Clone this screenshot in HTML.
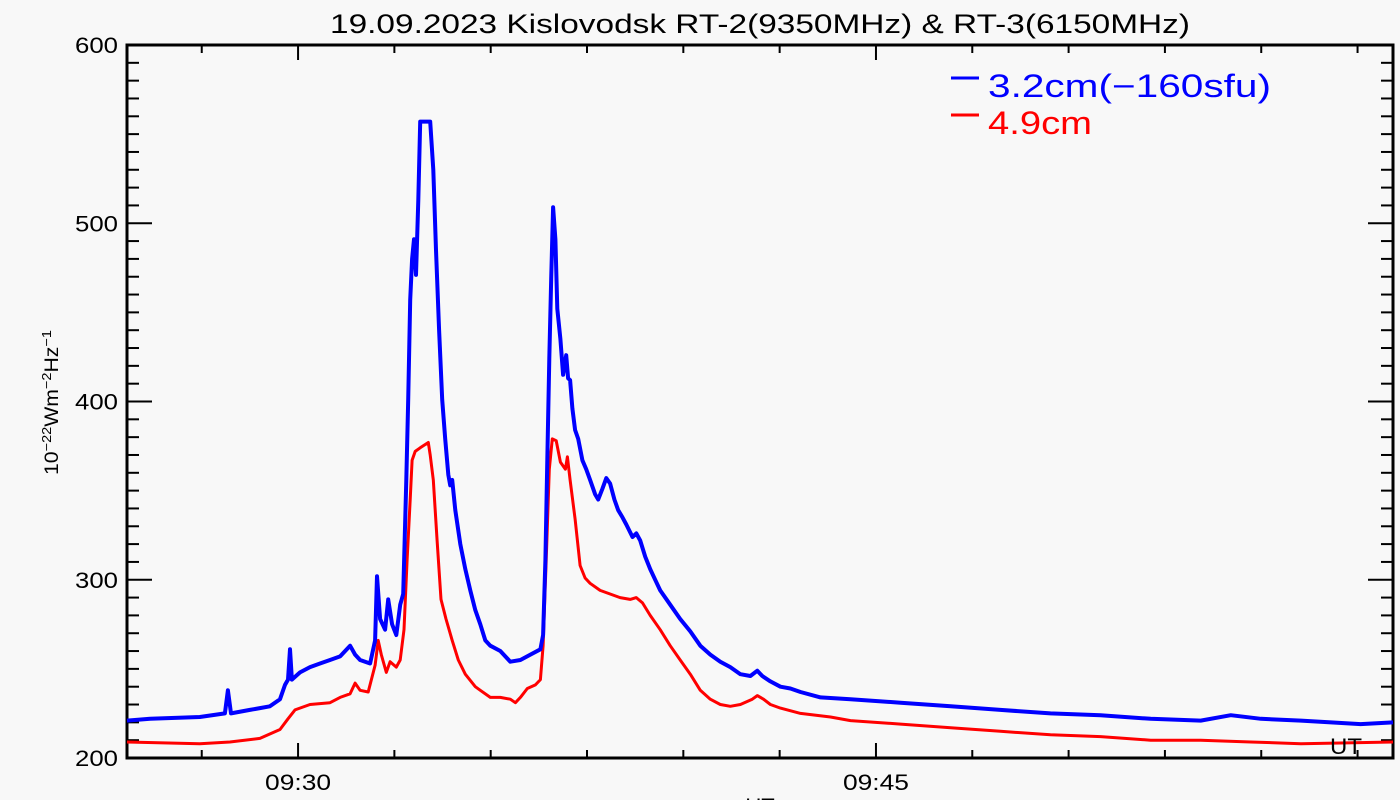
<!DOCTYPE html>
<html><head><meta charset="utf-8"><style>
body{margin:0;background:#f8f8f8;width:1400px;height:800px;overflow:hidden}
svg{display:block}
text{font-family:"Liberation Sans","DejaVu Sans",sans-serif}
</style></head><body>
<svg id="chart" width="1400" height="800" xmlns="http://www.w3.org/2000/svg">
<rect width="1400" height="800" fill="#f8f8f8"/>
<text x="330" y="33" font-size="27" textLength="860" lengthAdjust="spacingAndGlyphs" fill="#000">19.09.2023 Kislovodsk RT-2(9350MHz) &amp; RT-3(6150MHz)</text>
<g id="axes"></g>
<g id="series"></g>
<text transform="translate(58,475) rotate(-90)" font-size="19" textLength="145" lengthAdjust="spacingAndGlyphs">10<tspan font-size="13" dy="-7">−22</tspan><tspan dy="7">Wm</tspan><tspan font-size="13" dy="-7">−2</tspan><tspan dy="7">Hz</tspan><tspan font-size="13" dy="-7">−1</tspan></text>
<text x="760" y="814" font-size="22" text-anchor="middle">UT</text>
<text x="1330" y="754" font-size="22" textLength="32" lengthAdjust="spacingAndGlyphs">UT</text>
<g>
<line x1="951" y1="78" x2="979" y2="78" stroke="#0000ff" stroke-width="3"/>
<text x="988" y="97" font-size="32" textLength="283" lengthAdjust="spacingAndGlyphs" fill="#0000ff">3.2cm(−160sfu)</text>
<line x1="951" y1="115" x2="979" y2="115" stroke="#ff0000" stroke-width="3"/>
<text x="988" y="134" font-size="32" textLength="104" lengthAdjust="spacingAndGlyphs" fill="#ff0000">4.9cm</text>
</g>
</svg>
<script>
// times are minutes after 09:00 UT
const blueTimes=[25.56,26.16,27.45,28.10,28.18,28.26,28.75,29.01,29.27,29.53,29.66,29.74,29.79,29.84,30.05,30.31,30.57,30.83,31.09,31.35,31.48,31.61,31.87,32.00,32.05,32.13,32.26,32.34,32.44,32.55,32.65,32.73,32.81,32.86,32.91,32.96,33.01,33.06,33.12,33.17,33.43,33.45,33.51,33.58,33.66,33.74,33.82,33.90,33.95,34.00,34.08,34.21,34.34,34.47,34.60,34.73,34.86,34.99,35.25,35.51,35.77,36.03,36.29,36.36,36.42,36.47,36.52,36.57,36.62,36.68,36.73,36.81,36.88,36.96,37.01,37.06,37.12,37.19,37.27,37.38,37.48,37.58,37.71,37.79,37.90,38.00,38.10,38.21,38.31,38.42,38.52,38.68,38.78,38.88,39.01,39.14,39.27,39.40,39.66,39.92,40.18,40.44,40.70,40.96,41.22,41.48,41.74,41.92,42.05,42.26,42.52,42.78,43.04,43.56,44.34,45.64,46.94,48.23,49.53,50.83,52.13,53.43,54.21,54.99,56.03,56.81,57.58,58.42];
const blueValues=[221,222,223,225,238,225,227,228,229,233,241,244,261,244,248,251,253,255,257,263,258,255,253,266,302,278,272,289,275,269,286,292,356,401,457,480,491,471,513,557,557,550,530,485,440,401,379,359,353,356,339,320,306,294,283,275,266,263,260,254,255,258,261,269,311,367,424,469,509,491,452,435,415,426,413,412,396,384,379,367,362,356,348,345,351,357,354,345,339,335,331,324,326,322,313,306,300,294,286,278,271,263,258,254,251,247,246,249,246,243,240,239,237,234,233,231,229,227,225,224,222,221,224,222,221,220,219,220];
const redTimes=[25.56,27.45,28.23,29.01,29.53,29.74,29.92,30.31,30.83,31.09,31.35,31.48,31.61,31.82,32.00,32.08,32.16,32.29,32.39,32.55,32.65,32.75,32.83,32.91,32.96,33.04,33.17,33.38,33.43,33.51,33.61,33.71,33.84,34.00,34.16,34.34,34.60,34.73,34.99,35.25,35.51,35.64,35.77,35.95,36.16,36.29,36.36,36.44,36.52,36.60,36.70,36.81,36.94,36.99,37.06,37.19,37.32,37.45,37.58,37.84,38.10,38.36,38.62,38.78,38.94,39.14,39.40,39.66,39.92,40.18,40.44,40.70,40.96,41.22,41.48,41.79,41.92,42.08,42.26,42.52,43.04,43.82,44.34,45.64,46.94,48.23,49.53,50.83,52.13,53.43,54.73,56.03,58.42];
const redValues=[209,208,209,211,216,222,227,230,231,234,236,242,238,237,252,266,258,248,254,251,255,272,311,345,367,372,374,377,370,356,322,289,278,266,255,247,240,238,234,234,233,231,234,239,241,244,263,311,362,379,378,366,362,369,356,334,308,301,298,294,292,290,289,290,287,280,272,263,255,247,238,233,230,229,230,233,235,233,230,228,225,223,221,219,217,215,213,212,210,210,209,208,209];
const yTickValues=[200,300,400,500,600];
const xTickMinutes=[30,45];
const xTickLabels=["09:30","09:45"];

const X0=127,X1=1393,Y0=758,Y1=45,TMIN=25.56,TMAX=58.42,VMIN=200,VMAX=600;
const sx=t=>X0+(t-TMIN)/(TMAX-TMIN)*(X1-X0);
const sy=v=>Y0-(v-VMIN)/(VMAX-VMIN)*(Y0-Y1);
const NS="http://www.w3.org/2000/svg";
const axes=document.getElementById('axes'),series=document.getElementById('series');
function mk(tag,attrs,parent){const e=document.createElementNS(NS,tag);for(const k in attrs)e.setAttribute(k,attrs[k]);parent.appendChild(e);return e;}

const frame=mk('rect',{x:X0,y:Y1,width:X1-X0,height:Y0-Y1,fill:'none',stroke:'#000','stroke-width':3},axes);



for(let v=200;v<=600;v+=10){
  const y=sy(v),major=v%100===0,L=major?25:12;
  const t1=mk('line',{x1:X0,y1:y,x2:X0+L,y2:y,stroke:'#000','stroke-width':2},axes);
  
  
  const t2=mk('line',{x1:X1,y1:y,x2:X1-L,y2:y,stroke:'#000','stroke-width':2},axes);
  
  
}
yTickValues.forEach(v=>{
  const t=mk('text',{x:X0-9,y:sy(v)+8,'font-size':22,'text-anchor':'end',textLength:43,lengthAdjust:'spacingAndGlyphs'},axes);
  t.textContent=v;
  
  
});
for(let m=27.5;m<TMAX;m+=2.5){
  const x=sx(m),major=xTickMinutes.includes(m),L=major?15:8;
  const a=mk('line',{x1:x,y1:Y0,x2:x,y2:Y0-L,stroke:'#000','stroke-width':2},axes);
  
  
  const b=mk('line',{x1:x,y1:Y1,x2:x,y2:Y1+L,stroke:'#000','stroke-width':2},axes);
  
  
}
xTickMinutes.forEach((m,i)=>{
  const t=mk('text',{x:sx(m)-33,y:790,'font-size':22,textLength:66,lengthAdjust:'spacingAndGlyphs'},axes);
  t.textContent=xTickLabels[i];
  
  
});
function line(ts,vs,color,w,name){
  const d=ts.map((t,i)=>(i?'L':'M')+sx(t).toFixed(1)+','+sy(vs[i]).toFixed(1)).join('');
  const p=mk('path',{d:d,fill:'none',stroke:color,'stroke-width':w,'stroke-linejoin':'round'},series);
  
  
}
line(redTimes,redValues,'#ff0000',3,'series-4-9cm');
line(blueTimes,blueValues,'#0000ff',4,'series-3-2cm');
</script>
</body></html>
